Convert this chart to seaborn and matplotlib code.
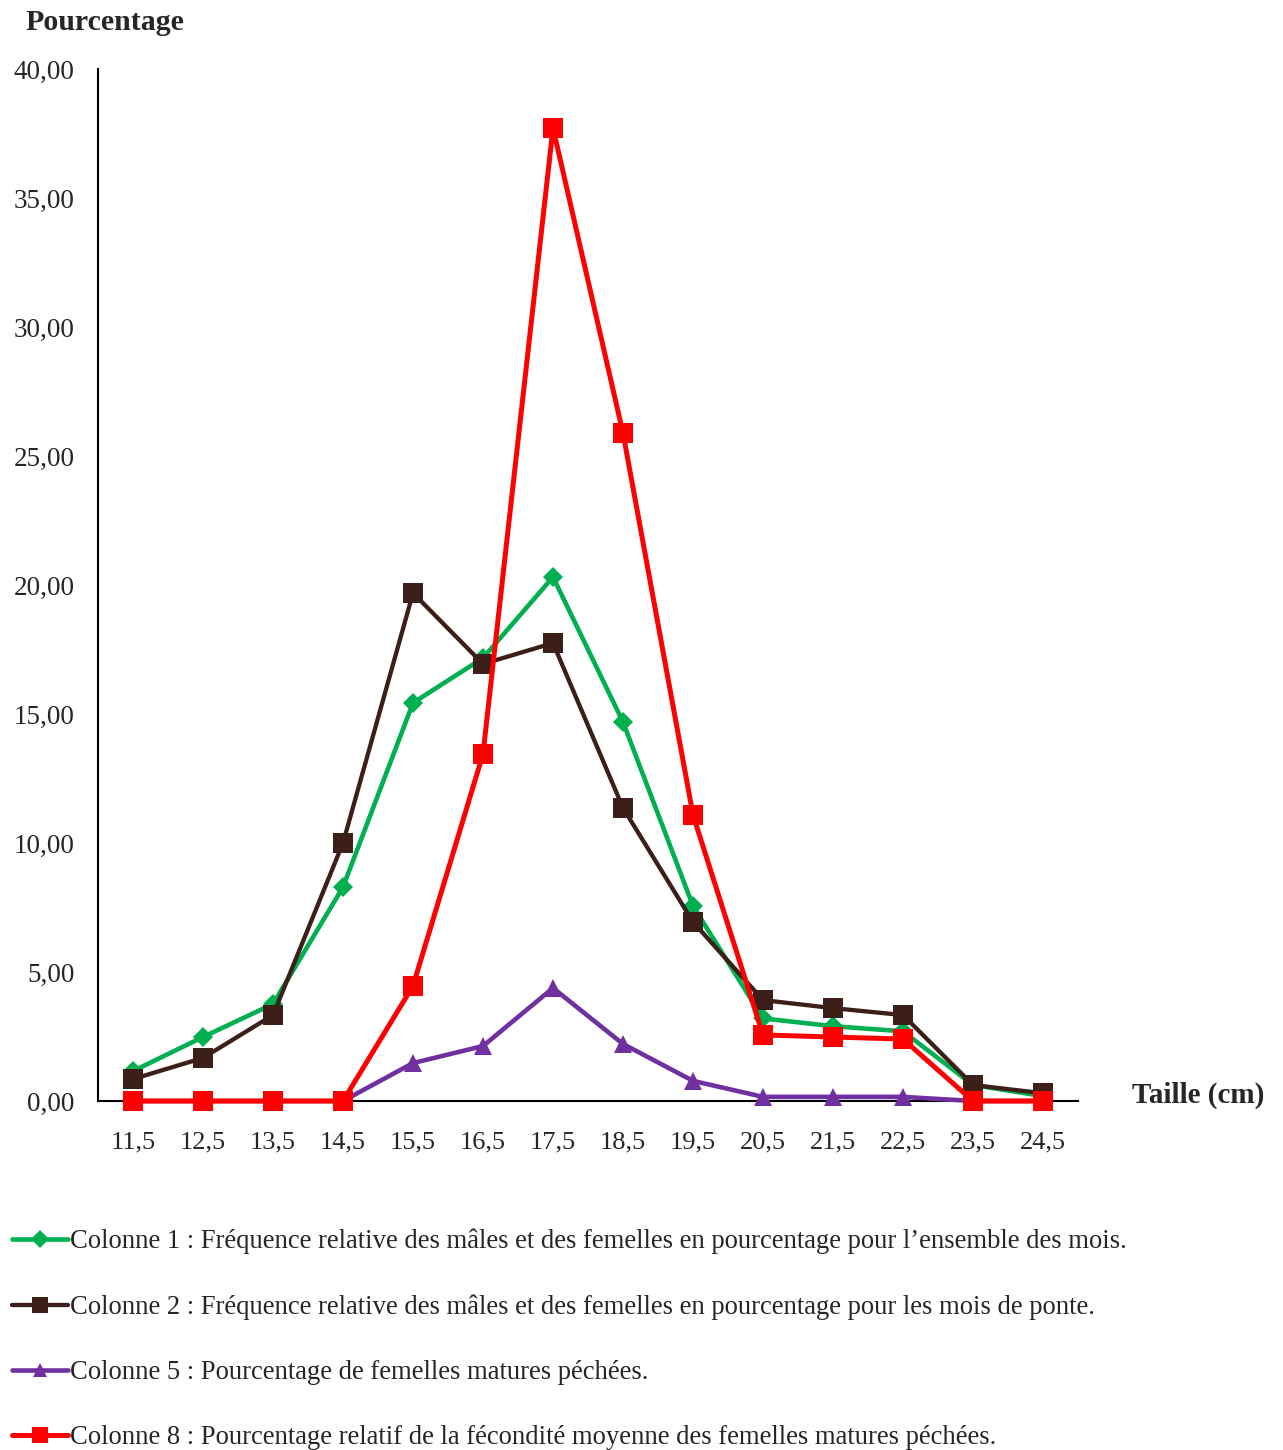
import matplotlib
matplotlib.use("Agg")
import matplotlib.pyplot as plt
import seaborn as sns
import pandas as pd

# ---- data ----
tailles = [11.5, 12.5, 13.5, 14.5, 15.5, 16.5, 17.5, 18.5, 19.5, 20.5, 21.5, 22.5, 23.5, 24.5]
tailles_labels = ["11,5", "12,5", "13,5", "14,5", "15,5", "16,5", "17,5", "18,5",
                  "19,5", "20,5", "21,5", "22,5", "23,5", "24,5"]
col1 = [1.16, 2.48, 3.76, 8.29, 15.43, 17.17, 20.31, 14.69, 7.56, 3.20, 2.90, 2.70, 0.62, 0.19]
col2 = [0.85, 1.67, 3.33, 10.00, 19.69, 16.94, 17.75, 11.36, 6.94, 3.91, 3.60, 3.33, 0.62, 0.30]
col5 = [0.00, 0.00, 0.00, 0.00, 1.47, 2.13, 4.38, 2.21, 0.78, 0.16, 0.16, 0.16, 0.00, 0.00]
col8 = [0.00, 0.00, 0.00, 0.00, 4.46, 13.45, 37.71, 25.89, 11.09, 2.56, 2.48, 2.40, 0.00, 0.00]
y_ticks = [0, 5, 10, 15, 20, 25, 30, 35, 40]
y_tick_labels = ["0,00", "5,00", "10,00", "15,00", "20,00", "25,00", "30,00", "35,00", "40,00"]
labels = [
    "Colonne 1 : Fréquence relative des mâles et des femelles en pourcentage pour l\u2019ensemble des mois.",
    "Colonne 2 : Fréquence relative des mâles et des femelles en pourcentage pour les mois de ponte.",
    "Colonne 5 : Pourcentage de femelles matures péchées.",
    "Colonne 8 : Pourcentage relatif de la fécondité moyenne des femelles matures péchées.",
]

sns.set_theme(style="white")
plt.rcParams["font.family"] = ["Liberation Serif", "DejaVu Serif"]

fig = plt.figure(figsize=(12.83, 14.50), dpi=100)
ax = fig.add_axes([98 / 1283, 1 - 1101 / 1450, (1078 - 98) / 1283, (1101 - 69) / 1450])

series = [
    (col1, "#00B050", "D", 10.5, 3.3),
    (col2, "#3B1F18", "s", 14, 3.1),
    (col5, "#7030A0", "^", 12.5, 3.3),
    (col8, "#FF0000", "s", 14, 3.6),
]
for (vals, color, marker, ms, lw), lab in zip(series, labels):
    df = pd.DataFrame({"taille": tailles, "pct": vals})
    sns.lineplot(data=df, x="taille", y="pct", ax=ax, color=color, marker=marker,
                 markersize=ms, linewidth=lw, markeredgewidth=0, label=lab,
                 markeredgecolor=color, clip_on=False)

ax.set_xlim(11, 25)
ax.set_ylim(0, 40)
ax.set_xticks(tailles)
ax.set_xticklabels(tailles_labels, fontsize=19)
ax.set_yticks(y_ticks)
ax.set_yticklabels(y_tick_labels, fontsize=19.5)
ax.tick_params(axis="x", length=0, pad=22)
ax.tick_params(axis="y", length=0, pad=17)
ax.set_xlabel("")
ax.set_ylabel("")
for s in ["top", "right"]:
    ax.spines[s].set_visible(False)
for s in ["left", "bottom"]:
    ax.spines[s].set_color("black")
    ax.spines[s].set_linewidth(1.5)
    ax.spines[s].set_zorder(0)

handles, labs = ax.get_legend_handles_labels()
ax.get_legend().remove()
fig.legend(handles, labs, loc="upper left", bbox_to_anchor=(12 / 1283, 1 - 1229 / 1450),
           frameon=False, fontsize=19.2, handlelength=2.1, handletextpad=0.08,
           labelspacing=1.5, borderpad=0, borderaxespad=0, markerscale=0.85)

fig.text(25 / 1283, 1 - 23 / 1450, "Pourcentage", fontsize=21.5, fontweight="bold",
         ha="left", va="center")
fig.text(1132 / 1283, 1 - 1095 / 1450, "Taille (cm)", fontsize=21, fontweight="bold",
         ha="left", va="center")

fig.savefig("out.png", dpi=100)
